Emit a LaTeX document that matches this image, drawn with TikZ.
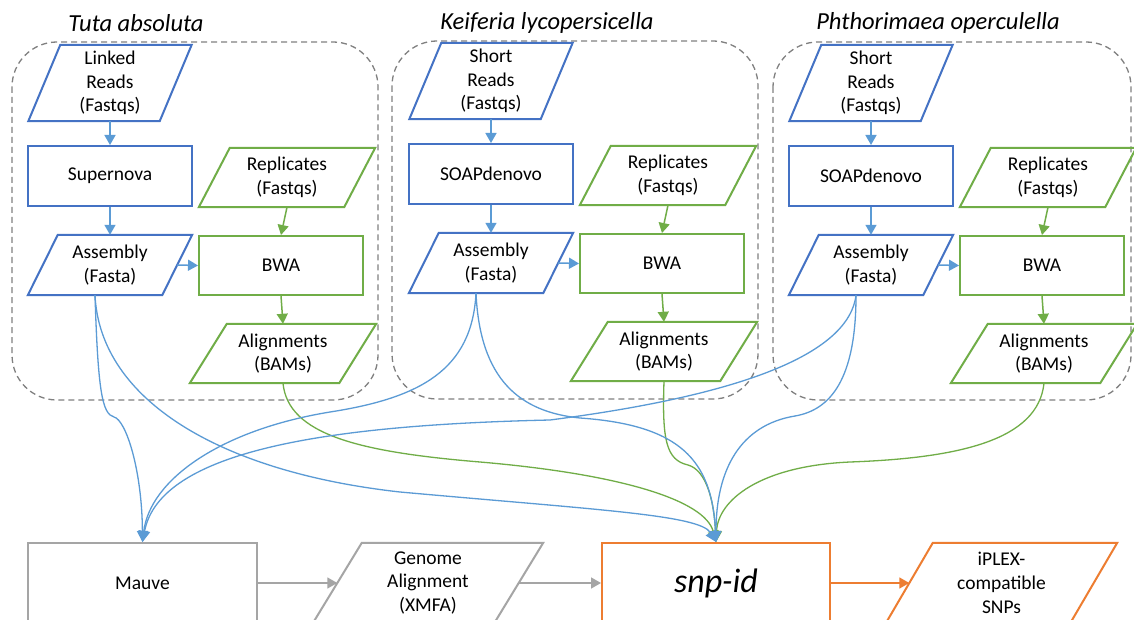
\documentclass[tikz,border=0pt]{standalone}
\usepackage{fontspec}
\setmainfont{Carlito}
\usetikzlibrary{arrows.meta,calc}
\definecolor{nblue}{HTML}{4472C4}
\definecolor{ablue}{HTML}{5B9BD5}
\definecolor{ngreen}{HTML}{70AD47}
\definecolor{ngray}{HTML}{A5A5A5}
\definecolor{norange}{HTML}{ED7D31}
\definecolor{dgray}{HTML}{808080}
\tikzset{
 txt/.style={rectangle, inner sep=0pt, align=center, font=\fontsize{19.5}{23.8}\selectfont},
 nodeline/.style={line width=2pt},
 arr/.style={line width=1.5pt, -{Triangle[length=10pt,width=11pt]}},
 curve/.style={line width=1.3pt, -{Triangle[length=11pt,width=11pt]}},
 grp/.style={draw=dgray, line width=1.3pt, dash pattern=on 6pt off 4pt, rounded corners=45pt},
 title/.style={font=\fontsize{24.5}{28}\selectfont\itshape},
}
\newcommand{\mypara}[7]{%
  \node[txt, minimum width=#3pt, minimum height=#4pt] (#1) at (#2) {#7};
  \draw[draw=#6, nodeline] ([xshift=#5pt]#1.north west) -- (#1.north east) -- ([xshift=-#5pt]#1.south east) -- (#1.south west) -- cycle;
}
\newcommand{\mygroup}[5]{%
 \begin{scope}[shift={(#2,#3)}]
  \mypara{reads#1}{110,83}{163}{76}{32}{nblue}{#4}
  \node[txt, draw=nblue, nodeline, minimum width=164pt, minimum height=60pt] (tool#1) at (110,176) {#5};
  \mypara{asm#1}{110,265}{164}{60}{30}{nblue}{Assembly\\(Fasta)}
  \mypara{rep#1}{287,177.5}{176}{59}{31}{ngreen}{Replicates\\(Fastqs)}
  \node[txt, draw=ngreen, nodeline, minimum width=164pt, minimum height=59pt] (bwa#1) at (281,265.5) {BWA};
  \mypara{aln#1}{283,353.5}{186}{59}{37}{ngreen}{Alignments\\(BAMs)}
  \draw[arr, ablue] (reads#1.south) -- (tool#1.north);
  \draw[arr, ablue] (tool#1.south) -- (asm#1.north);
  \draw[arr, ablue] ([xshift=-15pt]asm#1.east) -- (bwa#1.west);
  \draw[arr, ngreen] (rep#1.south) -- (bwa#1.north);
  \draw[arr, ngreen] (bwa#1.south) -- (aln#1.north);
  \coordinate (out#1) at ([xshift=-15pt]asm#1.south);
 \end{scope}
}
\begin{document}
\begin{tikzpicture}[x=1pt,y=-1pt]
\useasboundingbox (0,0) rectangle (1134,620);
\clip (0,0) rectangle (1134,620);
\fill[white] (0,0) rectangle (1134,620);
\draw[grp] (12,42) rectangle (378,400);
\draw[grp] (392,41) rectangle (758,399);
\draw[grp] (773,42) rectangle (1131,400);
\mygroup{1}{0}{0}{Linked\\Reads\\(Fastqs)}{Supernova}
\mygroup{2}{381}{-2}{Short\\Reads\\(Fastqs)}{SOAPdenovo}
\mygroup{3}{761}{0}{Short\\Reads\\(Fastqs)}{SOAPdenovo}
\node[title] (t1) at (136,23) {Tuta absoluta};
\node[title] (t2) at (547,23) {Keiferia lycopersicella};
\node[title] (t3) at (938,23) {Phthorimaea operculella};
% bottom row
\node[txt, draw=ngray, nodeline, minimum width=229pt, minimum height=80pt] (mauve) at (142.5,583) {Mauve};
\mypara{genome}{428,583}{230}{80}{49}{ngray}{Genome\\Alignment\\(XMFA)}
\node[txt, draw=norange, nodeline, minimum width=228pt, minimum height=80pt, font=\fontsize{34}{40}\selectfont\itshape] (snp) at (716,583) {snp-id};
\mypara{iplex}{1001.5,583}{231}{80}{47}{norange}{iPLEX-\\compatible\\SNPs}
\draw[arr, ngray] (mauve.east) -- ([xshift=24.5pt]genome.west);
\draw[arr, ngray] ([xshift=-24.5pt]genome.east) -- (snp.west);
\draw[arr, norange] (snp.east) -- ([xshift=23.5pt]iplex.west);
% curves
\draw[curve, ngreen] (aln1.south) .. controls (288,435) and (360,452) .. (480,462) .. controls (620,474) and (705,500) .. (snp.north);
\draw[curve, ngreen] (aln2.south) .. controls (662,440) and (666,460) .. (688,465) .. controls (706,470) and (714,500) .. (snp.north);
\draw[curve, ngreen] (aln3.south) .. controls (1038,440) and (960,458) .. (850,462) .. controls (760,466) and (718,500) .. (snp.north);
\draw[curve, ablue] (out1) .. controls (98,390) and (102,414) .. (114,417) .. controls (126,420) and (142,470) .. (mauve.north);
\draw[curve, ablue] (out1) .. controls (100,400) and (220,472) .. (400,492) .. controls (600,510) and (700,515) .. (snp.north);
\draw[curve, ablue] (out2) .. controls (472,370) and (420,398) .. (330,412) .. controls (220,430) and (150,480) .. (mauve.north);
\draw[curve, ablue] (out2) .. controls (480,380) and (520,412) .. (580,418) .. controls (680,425) and (712,460) .. (snp.north);
\draw[curve, ablue] (out3) .. controls (848,360) and (720,398) .. (550,420) .. controls (330,425) and (160,450) .. (mauve.north);
\draw[curve, ablue] (out3) .. controls (856,380) and (830,410) .. (795,416) .. controls (740,425) and (716,470) .. (snp.north);
\end{tikzpicture}
\end{document}
